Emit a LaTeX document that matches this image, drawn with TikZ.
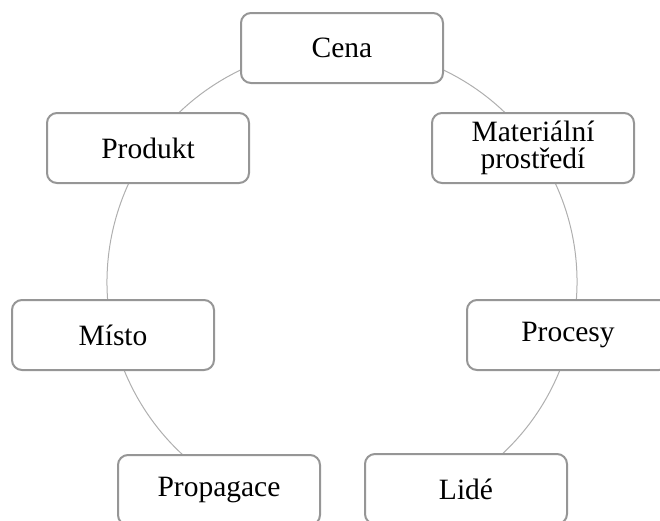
\documentclass[tikz,border=0pt]{standalone}
\usepackage{fontspec}
\setmainfont{Liberation Serif}
\definecolor{boxline}{RGB}{150,150,150}
\definecolor{ringline}{RGB}{175,175,175}
\begin{document}
\begin{tikzpicture}[x=1pt,y=-1pt,
  item/.style={draw=boxline, line width=2pt, fill=white, rounded corners=10pt,
    minimum width=202pt, minimum height=70pt, inner sep=0pt, align=center,
    font=\fontsize{29.5}{27.5}\selectfont},
  ring/.style={draw=ringline, line width=1pt}]
\useasboundingbox (0,0) rectangle (660,520);
\clip (0,0) rectangle (660,520);
\coordinate (ctr) at (342,282);
\draw[ring] (ctr) ++(-58:235pt) arc[start angle=-58, end angle=238, radius=235pt];
\node[item] (cena) at (342,48) {Cena};
\node[item] (mat) at (533,148) {Materiální\\prostředí};
\node[item] (proc) at (568,335) {Procesy};
\node[item] (lide) at (466,489) {Lidé};
\node[item] (prop) at (219,490) {Propagace};
\node[item] (misto) at (113,335) {Místo};
\node[item] (prod) at (148,148) {Produkt};
\end{tikzpicture}
\end{document}
